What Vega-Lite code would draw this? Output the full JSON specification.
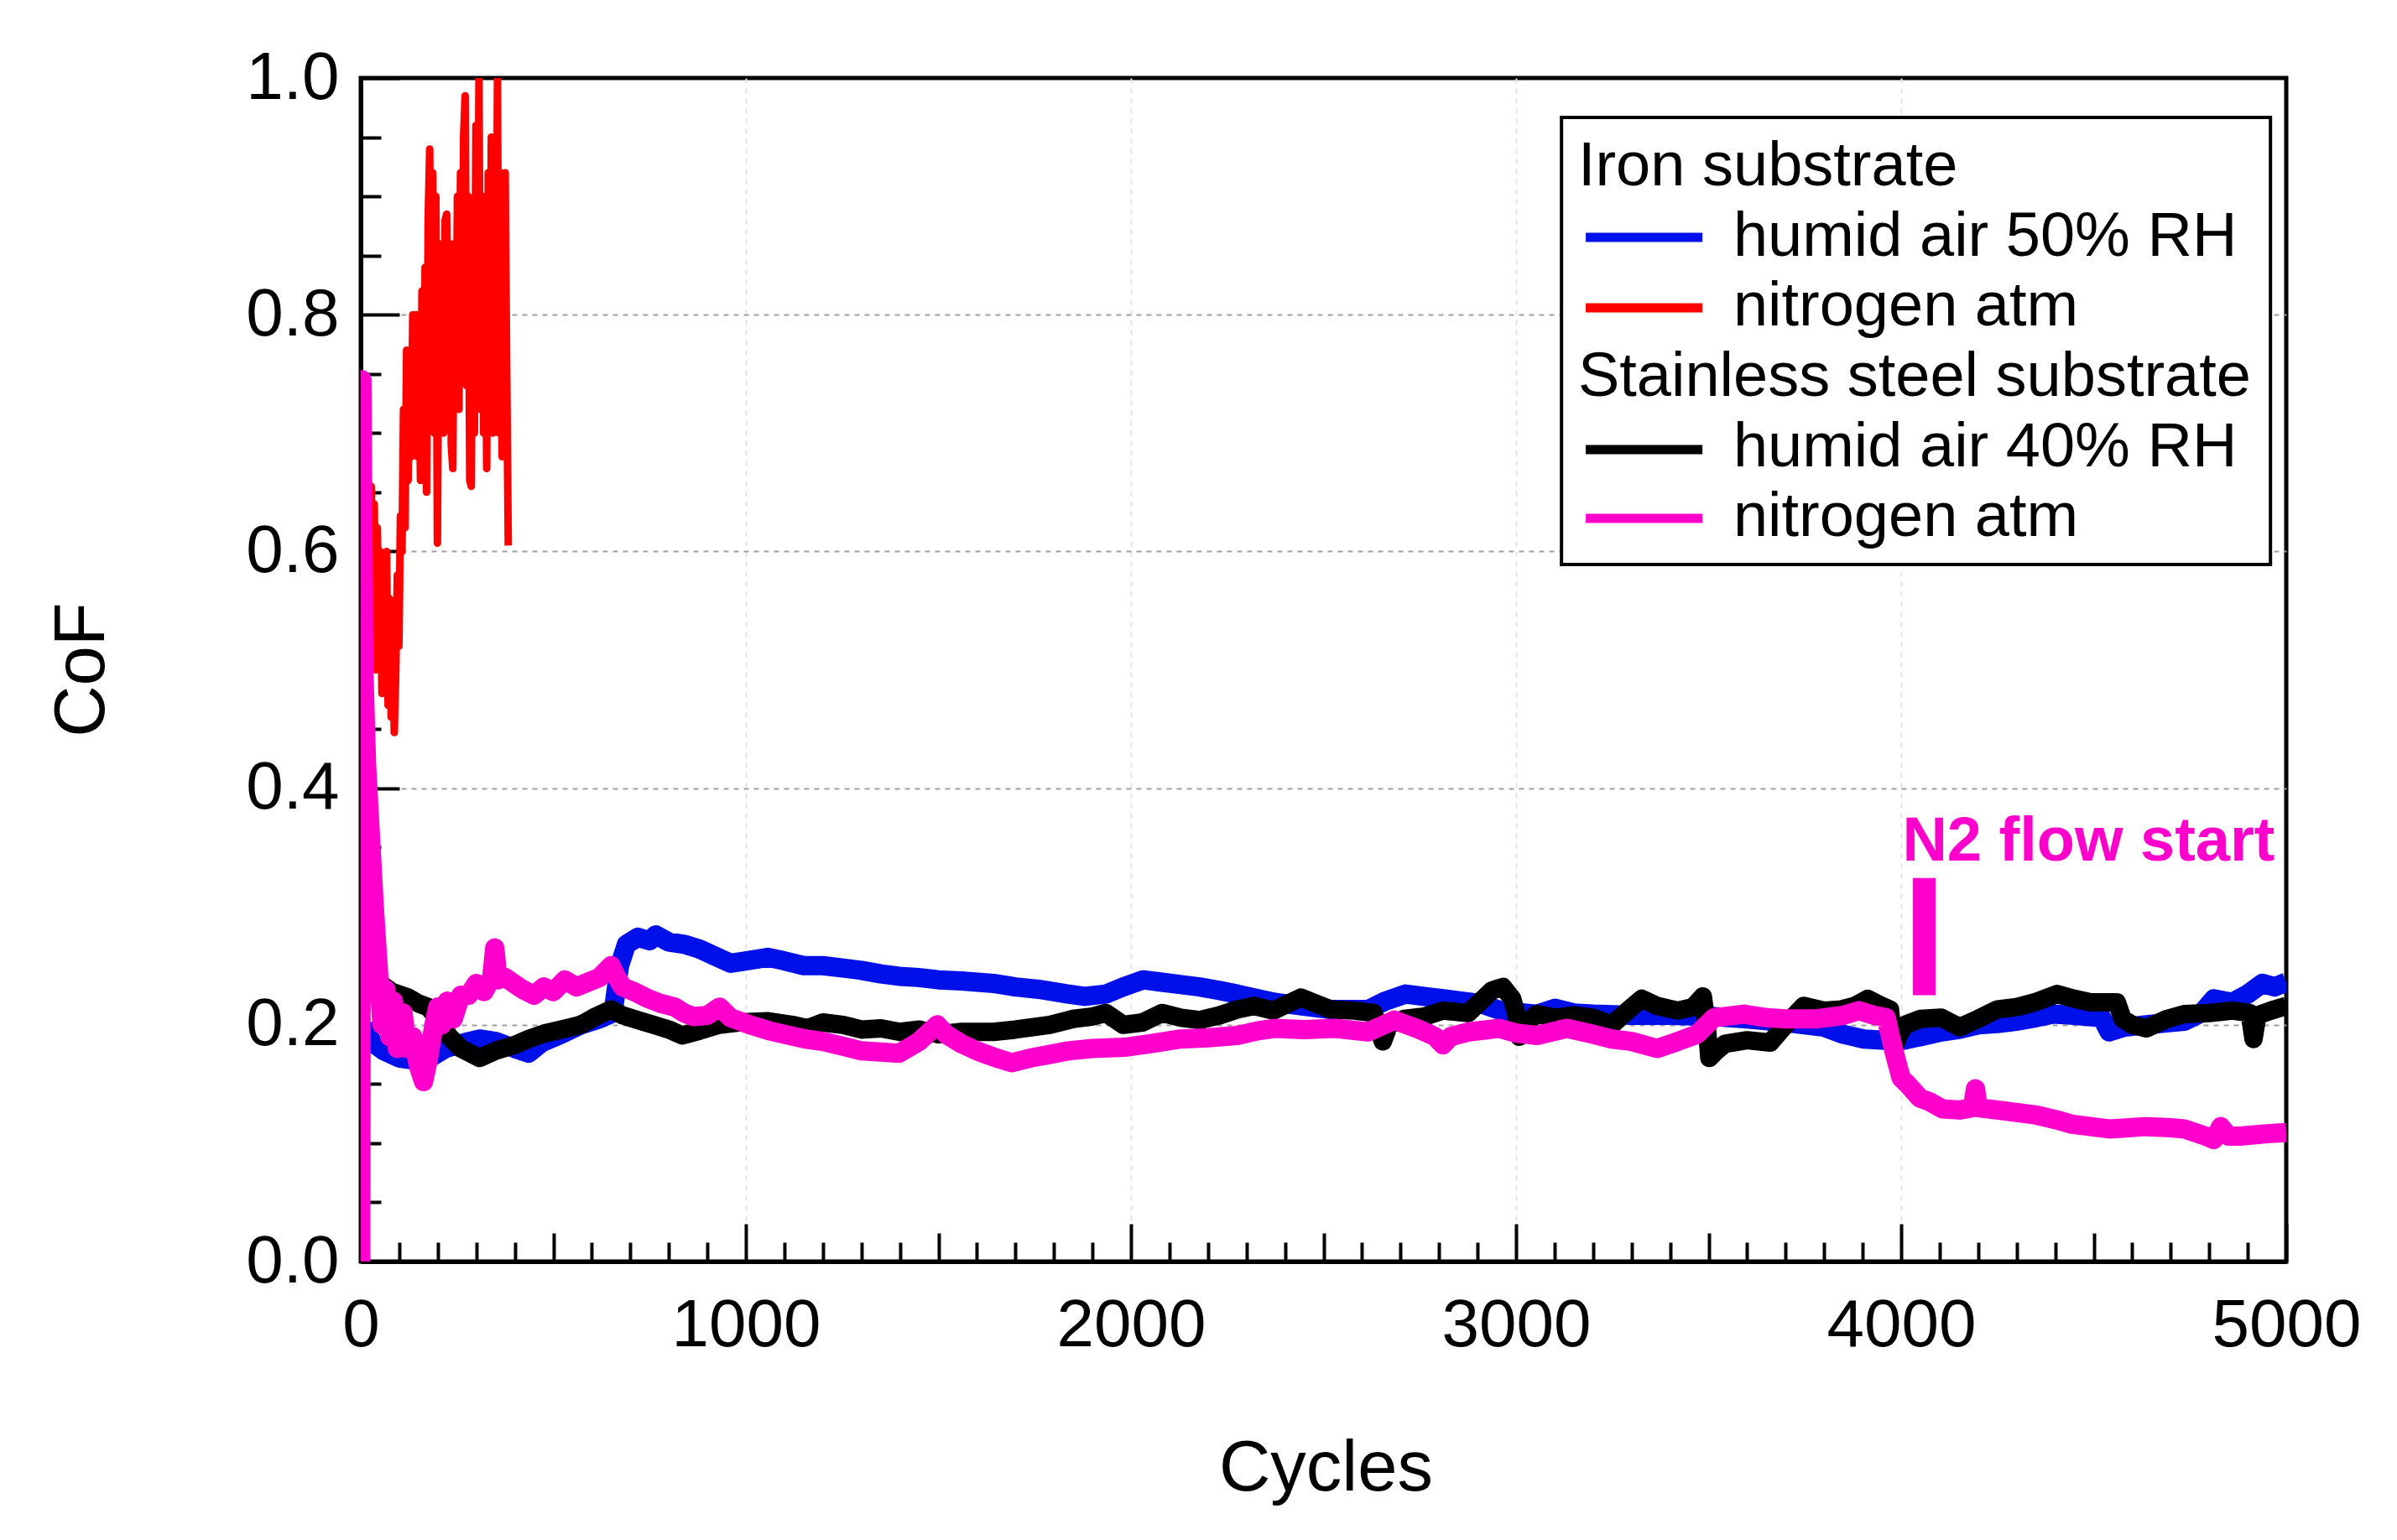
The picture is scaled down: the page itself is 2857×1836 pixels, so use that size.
{
  "$schema": "https://vega.github.io/schema/vega-lite/v6.json",
  "background": "white",
  "autosize": {"type": "none"},
  "padding": {"left": 430, "top": 93, "right": 132, "bottom": 332},
  "width": 2295,
  "height": 1411,
  "config": {
    "font": "Liberation Sans",
    "view": {"stroke": "black", "strokeWidth": 5}
  },
  "datasets": {
    "ironAir": [
      {"cycles": 10, "cof": 0.2}, {"cycles": 30, "cof": 0.185}, {"cycles": 60, "cof": 0.178}, {"cycles": 100, "cof": 0.172},
      {"cycles": 140, "cof": 0.17}, {"cycles": 180, "cof": 0.172}, {"cycles": 220, "cof": 0.18}, {"cycles": 270, "cof": 0.185},
      {"cycles": 309, "cof": 0.188}, {"cycles": 350, "cof": 0.186}, {"cycles": 400, "cof": 0.18}, {"cycles": 436, "cof": 0.176},
      {"cycles": 470, "cof": 0.185}, {"cycles": 520, "cof": 0.192}, {"cycles": 572, "cof": 0.2}, {"cycles": 620, "cof": 0.205},
      {"cycles": 655, "cof": 0.21}, {"cycles": 672, "cof": 0.25}, {"cycles": 690, "cof": 0.268}, {"cycles": 720, "cof": 0.274},
      {"cycles": 750, "cof": 0.271}, {"cycles": 766, "cof": 0.276}, {"cycles": 800, "cof": 0.27}, {"cycles": 840, "cof": 0.268},
      {"cycles": 880, "cof": 0.264}, {"cycles": 920, "cof": 0.258}, {"cycles": 961, "cof": 0.252}, {"cycles": 1000, "cof": 0.254},
      {"cycles": 1058, "cof": 0.257}, {"cycles": 1100, "cof": 0.254}, {"cycles": 1150, "cof": 0.25}, {"cycles": 1200, "cof": 0.25},
      {"cycles": 1252, "cof": 0.248}, {"cycles": 1300, "cof": 0.246}, {"cycles": 1351, "cof": 0.243}, {"cycles": 1398, "cof": 0.241},
      {"cycles": 1448, "cof": 0.24}, {"cycles": 1500, "cof": 0.238}, {"cycles": 1560, "cof": 0.237}, {"cycles": 1643, "cof": 0.235},
      {"cycles": 1700, "cof": 0.232}, {"cycles": 1760, "cof": 0.23}, {"cycles": 1837, "cof": 0.226}, {"cycles": 1880, "cof": 0.224},
      {"cycles": 1935, "cof": 0.226}, {"cycles": 1980, "cof": 0.232}, {"cycles": 2032, "cof": 0.238}, {"cycles": 2080, "cof": 0.236},
      {"cycles": 2130, "cof": 0.234}, {"cycles": 2178, "cof": 0.232}, {"cycles": 2230, "cof": 0.229}, {"cycles": 2276, "cof": 0.226},
      {"cycles": 2330, "cof": 0.222}, {"cycles": 2373, "cof": 0.219}, {"cycles": 2440, "cof": 0.216}, {"cycles": 2519, "cof": 0.213},
      {"cycles": 2616, "cof": 0.213}, {"cycles": 2660, "cof": 0.22}, {"cycles": 2713, "cof": 0.226}, {"cycles": 2760, "cof": 0.224},
      {"cycles": 2810, "cof": 0.222}, {"cycles": 2907, "cof": 0.218}, {"cycles": 2960, "cof": 0.212}, {"cycles": 3054, "cof": 0.209},
      {"cycles": 3102, "cof": 0.214}, {"cycles": 3150, "cof": 0.21}, {"cycles": 3200, "cof": 0.209}, {"cycles": 3300, "cof": 0.208},
      {"cycles": 3400, "cof": 0.208}, {"cycles": 3514, "cof": 0.207}, {"cycles": 3600, "cof": 0.205}, {"cycles": 3700, "cof": 0.202},
      {"cycles": 3800, "cof": 0.198}, {"cycles": 3850, "cof": 0.192}, {"cycles": 3903, "cof": 0.188}, {"cycles": 3958, "cof": 0.187},
      {"cycles": 4006, "cof": 0.187}, {"cycles": 4050, "cof": 0.19}, {"cycles": 4104, "cof": 0.194}, {"cycles": 4150, "cof": 0.196},
      {"cycles": 4201, "cof": 0.2}, {"cycles": 4250, "cof": 0.201}, {"cycles": 4298, "cof": 0.203}, {"cycles": 4350, "cof": 0.206},
      {"cycles": 4395, "cof": 0.209}, {"cycles": 4450, "cof": 0.208}, {"cycles": 4521, "cof": 0.206}, {"cycles": 4540, "cof": 0.194},
      {"cycles": 4580, "cof": 0.198}, {"cycles": 4637, "cof": 0.2}, {"cycles": 4700, "cof": 0.202}, {"cycles": 4735, "cof": 0.203},
      {"cycles": 4780, "cof": 0.21}, {"cycles": 4812, "cof": 0.222}, {"cycles": 4860, "cof": 0.219}, {"cycles": 4900, "cof": 0.226},
      {"cycles": 4938, "cof": 0.235}, {"cycles": 4970, "cof": 0.232}, {"cycles": 5000, "cof": 0.236}
    ],
    "ironN2": [
      {"cycles": 15, "cof": 0.48}, {"cycles": 19, "cof": 0.62}, {"cycles": 23, "cof": 0.52}, {"cycles": 27, "cof": 0.655},
      {"cycles": 31, "cof": 0.56}, {"cycles": 35, "cof": 0.64}, {"cycles": 39, "cof": 0.5}, {"cycles": 43, "cof": 0.62},
      {"cycles": 47, "cof": 0.53}, {"cycles": 51, "cof": 0.6}, {"cycles": 55, "cof": 0.48}, {"cycles": 59, "cof": 0.58},
      {"cycles": 63, "cof": 0.5}, {"cycles": 67, "cof": 0.6}, {"cycles": 71, "cof": 0.47}, {"cycles": 75, "cof": 0.56},
      {"cycles": 79, "cof": 0.46}, {"cycles": 83, "cof": 0.52}, {"cycles": 87, "cof": 0.447}, {"cycles": 91, "cof": 0.5},
      {"cycles": 95, "cof": 0.58}, {"cycles": 99, "cof": 0.52}, {"cycles": 103, "cof": 0.63}, {"cycles": 107, "cof": 0.6},
      {"cycles": 111, "cof": 0.72}, {"cycles": 115, "cof": 0.62}, {"cycles": 119, "cof": 0.77}, {"cycles": 123, "cof": 0.66},
      {"cycles": 127, "cof": 0.76}, {"cycles": 131, "cof": 0.68}, {"cycles": 135, "cof": 0.8}, {"cycles": 139, "cof": 0.7},
      {"cycles": 143, "cof": 0.8}, {"cycles": 147, "cof": 0.68}, {"cycles": 151, "cof": 0.78}, {"cycles": 155, "cof": 0.66},
      {"cycles": 159, "cof": 0.82}, {"cycles": 163, "cof": 0.7}, {"cycles": 167, "cof": 0.84}, {"cycles": 171, "cof": 0.65},
      {"cycles": 175, "cof": 0.88}, {"cycles": 179, "cof": 0.94}, {"cycles": 183, "cof": 0.78}, {"cycles": 187, "cof": 0.92},
      {"cycles": 191, "cof": 0.7}, {"cycles": 195, "cof": 0.9}, {"cycles": 199, "cof": 0.607}, {"cycles": 203, "cof": 0.84},
      {"cycles": 207, "cof": 0.72}, {"cycles": 211, "cof": 0.86}, {"cycles": 215, "cof": 0.7}, {"cycles": 219, "cof": 0.88},
      {"cycles": 223, "cof": 0.885}, {"cycles": 227, "cof": 0.74}, {"cycles": 231, "cof": 0.86}, {"cycles": 235, "cof": 0.69},
      {"cycles": 239, "cof": 0.67}, {"cycles": 243, "cof": 0.86}, {"cycles": 247, "cof": 0.74}, {"cycles": 251, "cof": 0.9},
      {"cycles": 255, "cof": 0.72}, {"cycles": 259, "cof": 0.92}, {"cycles": 263, "cof": 0.75}, {"cycles": 267, "cof": 0.95},
      {"cycles": 271, "cof": 0.985}, {"cycles": 275, "cof": 0.74}, {"cycles": 279, "cof": 0.9}, {"cycles": 283, "cof": 0.66},
      {"cycles": 287, "cof": 0.655}, {"cycles": 291, "cof": 0.88}, {"cycles": 295, "cof": 0.7}, {"cycles": 299, "cof": 0.96},
      {"cycles": 303, "cof": 0.8}, {"cycles": 307, "cof": 1.0}, {"cycles": 311, "cof": 0.72}, {"cycles": 315, "cof": 0.9},
      {"cycles": 319, "cof": 0.7}, {"cycles": 323, "cof": 0.88}, {"cycles": 327, "cof": 0.67}, {"cycles": 331, "cof": 0.92},
      {"cycles": 335, "cof": 0.72}, {"cycles": 339, "cof": 0.95}, {"cycles": 343, "cof": 0.7}, {"cycles": 347, "cof": 0.9},
      {"cycles": 351, "cof": 0.75}, {"cycles": 355, "cof": 1.0}, {"cycles": 359, "cof": 0.7}, {"cycles": 363, "cof": 0.92},
      {"cycles": 367, "cof": 0.68}, {"cycles": 371, "cof": 0.88}, {"cycles": 375, "cof": 0.92}, {"cycles": 379, "cof": 0.75},
      {"cycles": 383, "cof": 0.605}
    ],
    "ssAir": [
      {"cycles": 5, "cof": 0.27}, {"cycles": 15, "cof": 0.26}, {"cycles": 30, "cof": 0.245}, {"cycles": 50, "cof": 0.235},
      {"cycles": 80, "cof": 0.228}, {"cycles": 124, "cof": 0.223}, {"cycles": 150, "cof": 0.218}, {"cycles": 175, "cof": 0.215},
      {"cycles": 200, "cof": 0.205}, {"cycles": 230, "cof": 0.19}, {"cycles": 260, "cof": 0.18}, {"cycles": 309, "cof": 0.172},
      {"cycles": 350, "cof": 0.178}, {"cycles": 400, "cof": 0.183}, {"cycles": 436, "cof": 0.188}, {"cycles": 480, "cof": 0.193},
      {"cycles": 520, "cof": 0.196}, {"cycles": 572, "cof": 0.2}, {"cycles": 610, "cof": 0.207}, {"cycles": 650, "cof": 0.213},
      {"cycles": 680, "cof": 0.208}, {"cycles": 720, "cof": 0.204}, {"cycles": 760, "cof": 0.2}, {"cycles": 800, "cof": 0.196},
      {"cycles": 835, "cof": 0.191}, {"cycles": 880, "cof": 0.195}, {"cycles": 930, "cof": 0.2}, {"cycles": 980, "cof": 0.202},
      {"cycles": 1058, "cof": 0.203}, {"cycles": 1120, "cof": 0.2}, {"cycles": 1160, "cof": 0.197}, {"cycles": 1200, "cof": 0.202},
      {"cycles": 1252, "cof": 0.2}, {"cycles": 1300, "cof": 0.196}, {"cycles": 1351, "cof": 0.197}, {"cycles": 1400, "cof": 0.194},
      {"cycles": 1450, "cof": 0.196}, {"cycles": 1500, "cof": 0.192}, {"cycles": 1560, "cof": 0.194}, {"cycles": 1643, "cof": 0.194},
      {"cycles": 1700, "cof": 0.196}, {"cycles": 1789, "cof": 0.2}, {"cycles": 1850, "cof": 0.205}, {"cycles": 1900, "cof": 0.207},
      {"cycles": 1935, "cof": 0.21}, {"cycles": 1980, "cof": 0.2}, {"cycles": 2030, "cof": 0.202}, {"cycles": 2081, "cof": 0.21},
      {"cycles": 2130, "cof": 0.206}, {"cycles": 2178, "cof": 0.204}, {"cycles": 2230, "cof": 0.208}, {"cycles": 2276, "cof": 0.213},
      {"cycles": 2320, "cof": 0.216}, {"cycles": 2370, "cof": 0.212}, {"cycles": 2441, "cof": 0.223}, {"cycles": 2480, "cof": 0.218},
      {"cycles": 2519, "cof": 0.213}, {"cycles": 2580, "cof": 0.212}, {"cycles": 2630, "cof": 0.21}, {"cycles": 2654, "cof": 0.186},
      {"cycles": 2670, "cof": 0.2}, {"cycles": 2710, "cof": 0.205}, {"cycles": 2762, "cof": 0.207}, {"cycles": 2810, "cof": 0.212},
      {"cycles": 2876, "cof": 0.21}, {"cycles": 2937, "cof": 0.229}, {"cycles": 2966, "cof": 0.232}, {"cycles": 2990, "cof": 0.222},
      {"cycles": 3000, "cof": 0.21}, {"cycles": 3008, "cof": 0.19}, {"cycles": 3020, "cof": 0.2}, {"cycles": 3054, "cof": 0.209},
      {"cycles": 3102, "cof": 0.206}, {"cycles": 3150, "cof": 0.208}, {"cycles": 3200, "cof": 0.206}, {"cycles": 3249, "cof": 0.2},
      {"cycles": 3290, "cof": 0.212}, {"cycles": 3326, "cof": 0.222}, {"cycles": 3366, "cof": 0.216}, {"cycles": 3420, "cof": 0.212},
      {"cycles": 3460, "cof": 0.215}, {"cycles": 3485, "cof": 0.224}, {"cycles": 3495, "cof": 0.2}, {"cycles": 3502, "cof": 0.172},
      {"cycles": 3520, "cof": 0.178}, {"cycles": 3543, "cof": 0.184}, {"cycles": 3600, "cof": 0.187}, {"cycles": 3660, "cof": 0.185},
      {"cycles": 3700, "cof": 0.2}, {"cycles": 3747, "cof": 0.216}, {"cycles": 3800, "cof": 0.212}, {"cycles": 3845, "cof": 0.213},
      {"cycles": 3880, "cof": 0.216}, {"cycles": 3913, "cof": 0.222}, {"cycles": 3950, "cof": 0.216}, {"cycles": 3971, "cof": 0.213},
      {"cycles": 3981, "cof": 0.18}, {"cycles": 3995, "cof": 0.192}, {"cycles": 4010, "cof": 0.2}, {"cycles": 4050, "cof": 0.205},
      {"cycles": 4104, "cof": 0.206}, {"cycles": 4152, "cof": 0.198}, {"cycles": 4200, "cof": 0.205}, {"cycles": 4250, "cof": 0.213},
      {"cycles": 4300, "cof": 0.215}, {"cycles": 4347, "cof": 0.219}, {"cycles": 4405, "cof": 0.226}, {"cycles": 4450, "cof": 0.222},
      {"cycles": 4492, "cof": 0.219}, {"cycles": 4560, "cof": 0.219}, {"cycles": 4575, "cof": 0.205}, {"cycles": 4600, "cof": 0.2},
      {"cycles": 4637, "cof": 0.197}, {"cycles": 4690, "cof": 0.205}, {"cycles": 4735, "cof": 0.209}, {"cycles": 4800, "cof": 0.21},
      {"cycles": 4860, "cof": 0.212}, {"cycles": 4905, "cof": 0.21}, {"cycles": 4915, "cof": 0.188}, {"cycles": 4925, "cof": 0.208},
      {"cycles": 4960, "cof": 0.212}, {"cycles": 5000, "cof": 0.216}
    ],
    "ssN2": [
      {"cycles": 0, "cof": 0.0}, {"cycles": 3, "cof": 0.745}, {"cycles": 8, "cof": 0.5}, {"cycles": 15, "cof": 0.42},
      {"cycles": 25, "cof": 0.36}, {"cycles": 35, "cof": 0.3}, {"cycles": 45, "cof": 0.25}, {"cycles": 55, "cof": 0.2},
      {"cycles": 65, "cof": 0.23}, {"cycles": 75, "cof": 0.19}, {"cycles": 85, "cof": 0.22}, {"cycles": 95, "cof": 0.18},
      {"cycles": 110, "cof": 0.21}, {"cycles": 120, "cof": 0.18}, {"cycles": 135, "cof": 0.19}, {"cycles": 150, "cof": 0.165},
      {"cycles": 163, "cof": 0.152}, {"cycles": 175, "cof": 0.17}, {"cycles": 190, "cof": 0.2}, {"cycles": 200, "cof": 0.215},
      {"cycles": 210, "cof": 0.2}, {"cycles": 225, "cof": 0.22}, {"cycles": 240, "cof": 0.205}, {"cycles": 260, "cof": 0.225},
      {"cycles": 280, "cof": 0.225}, {"cycles": 300, "cof": 0.235}, {"cycles": 320, "cof": 0.228}, {"cycles": 340, "cof": 0.24},
      {"cycles": 348, "cof": 0.265}, {"cycles": 356, "cof": 0.238}, {"cycles": 375, "cof": 0.24}, {"cycles": 397, "cof": 0.235},
      {"cycles": 420, "cof": 0.23}, {"cycles": 450, "cof": 0.225}, {"cycles": 475, "cof": 0.232}, {"cycles": 500, "cof": 0.228},
      {"cycles": 530, "cof": 0.238}, {"cycles": 560, "cof": 0.232}, {"cycles": 590, "cof": 0.236}, {"cycles": 620, "cof": 0.24},
      {"cycles": 650, "cof": 0.25}, {"cycles": 665, "cof": 0.24}, {"cycles": 680, "cof": 0.232}, {"cycles": 710, "cof": 0.228},
      {"cycles": 747, "cof": 0.222}, {"cycles": 780, "cof": 0.218}, {"cycles": 815, "cof": 0.215}, {"cycles": 840, "cof": 0.21},
      {"cycles": 864, "cof": 0.207}, {"cycles": 900, "cof": 0.208}, {"cycles": 932, "cof": 0.215}, {"cycles": 960, "cof": 0.206},
      {"cycles": 1010, "cof": 0.2}, {"cycles": 1060, "cof": 0.195}, {"cycles": 1100, "cof": 0.192}, {"cycles": 1155, "cof": 0.188},
      {"cycles": 1200, "cof": 0.186}, {"cycles": 1250, "cof": 0.182}, {"cycles": 1300, "cof": 0.178}, {"cycles": 1350, "cof": 0.177},
      {"cycles": 1398, "cof": 0.176}, {"cycles": 1450, "cof": 0.186}, {"cycles": 1497, "cof": 0.2}, {"cycles": 1520, "cof": 0.192},
      {"cycles": 1560, "cof": 0.184}, {"cycles": 1600, "cof": 0.178}, {"cycles": 1650, "cof": 0.172}, {"cycles": 1691, "cof": 0.168},
      {"cycles": 1740, "cof": 0.172}, {"cycles": 1789, "cof": 0.175}, {"cycles": 1837, "cof": 0.178}, {"cycles": 1900, "cof": 0.18},
      {"cycles": 1983, "cof": 0.181}, {"cycles": 2050, "cof": 0.184}, {"cycles": 2129, "cof": 0.188}, {"cycles": 2200, "cof": 0.189},
      {"cycles": 2276, "cof": 0.191}, {"cycles": 2330, "cof": 0.195}, {"cycles": 2373, "cof": 0.197}, {"cycles": 2450, "cof": 0.196},
      {"cycles": 2530, "cof": 0.197}, {"cycles": 2616, "cof": 0.194}, {"cycles": 2684, "cof": 0.204}, {"cycles": 2750, "cof": 0.196},
      {"cycles": 2790, "cof": 0.19}, {"cycles": 2810, "cof": 0.183}, {"cycles": 2830, "cof": 0.19}, {"cycles": 2876, "cof": 0.194},
      {"cycles": 2956, "cof": 0.197}, {"cycles": 3000, "cof": 0.193}, {"cycles": 3054, "cof": 0.191}, {"cycles": 3132, "cof": 0.197},
      {"cycles": 3200, "cof": 0.192}, {"cycles": 3249, "cof": 0.188}, {"cycles": 3300, "cof": 0.186}, {"cycles": 3366, "cof": 0.18},
      {"cycles": 3420, "cof": 0.186}, {"cycles": 3470, "cof": 0.192}, {"cycles": 3514, "cof": 0.206}, {"cycles": 3592, "cof": 0.209},
      {"cycles": 3650, "cof": 0.206}, {"cycles": 3700, "cof": 0.205}, {"cycles": 3780, "cof": 0.205}, {"cycles": 3850, "cof": 0.208},
      {"cycles": 3890, "cof": 0.212}, {"cycles": 3930, "cof": 0.208}, {"cycles": 3961, "cof": 0.206}, {"cycles": 3981, "cof": 0.178},
      {"cycles": 4000, "cof": 0.155}, {"cycles": 4016, "cof": 0.15}, {"cycles": 4049, "cof": 0.138}, {"cycles": 4074, "cof": 0.135},
      {"cycles": 4107, "cof": 0.129}, {"cycles": 4152, "cof": 0.128}, {"cycles": 4185, "cof": 0.13}, {"cycles": 4193, "cof": 0.146},
      {"cycles": 4200, "cof": 0.13}, {"cycles": 4250, "cof": 0.128}, {"cycles": 4347, "cof": 0.124}, {"cycles": 4400, "cof": 0.12},
      {"cycles": 4444, "cof": 0.116}, {"cycles": 4540, "cof": 0.112}, {"cycles": 4637, "cof": 0.114}, {"cycles": 4700, "cof": 0.113},
      {"cycles": 4735, "cof": 0.112}, {"cycles": 4790, "cof": 0.106}, {"cycles": 4812, "cof": 0.103}, {"cycles": 4830, "cof": 0.114},
      {"cycles": 4850, "cof": 0.106}, {"cycles": 4880, "cof": 0.106}, {"cycles": 4950, "cof": 0.108}, {"cycles": 5000, "cof": 0.109}
    ],
    "legendBox": [
      {"cycles": 3118, "cycles2": 4959, "cof": 0.589, "cof2": 0.9667}
    ],
    "legendSymbols": [
      {"series": "Iron, humid air 50% RH", "cycles": 3181, "cycles2": 3484, "cof": 0.8653},
      {"series": "Iron, nitrogen atm", "cycles": 3181, "cycles2": 3484, "cof": 0.8058},
      {"series": "Stainless steel, humid air 40% RH", "cycles": 3181, "cycles2": 3484, "cof": 0.686},
      {"series": "Stainless steel, nitrogen atm", "cycles": 3181, "cycles2": 3484, "cof": 0.6279}
    ],
    "legendText": [
      {"label": "Iron substrate", "cycles": 3161, "cof": 0.9093},
      {"label": "humid air 50% RH", "cycles": 3564, "cof": 0.8497},
      {"label": "nitrogen atm", "cycles": 3564, "cof": 0.7909},
      {"label": "Stainless steel substrate", "cycles": 3161, "cof": 0.7314},
      {"label": "humid air 40% RH", "cycles": 3564, "cof": 0.6719},
      {"label": "nitrogen atm", "cycles": 3564, "cof": 0.613}
    ],
    "marker": [
      {"label": "N2 flow start", "cycles": 4060, "cof": 0.225, "cof2": 0.324, "textCycles": 4003, "textCof": 0.339}
    ]
  },
  "encoding": {
    "x": {
      "field": "cycles",
      "type": "quantitative",
      "scale": {"domain": [0, 5000], "nice": false},
      "axis": {
        "title": "Cycles",
        "titleFontSize": 85,
        "titleFontWeight": "normal",
        "titleColor": "black",
        "titleX": 1150,
        "titleY": 272,
        "titleAlign": "center",
        "titleBaseline": "alphabetic",
        "values": [0, 100, 200, 300, 400, 500, 600, 700, 800, 900, 1000, 1100, 1200, 1300, 1400, 1500, 1600, 1700, 1800, 1900, 2000, 2100, 2200, 2300, 2400, 2500, 2600, 2700, 2800, 2900, 3000, 3100, 3200, 3300, 3400, 3500, 3600, 3700, 3800, 3900, 4000, 4100, 4200, 4300, 4400, 4500, 4600, 4700, 4800, 4900, 5000],
        "format": "d",
        "labelExpr": "datum.value % 1000 === 0 ? datum.label : ''",
        "labelFontSize": 80,
        "labelColor": "black",
        "labelPadding": 82,
        "labelFlush": false,
        "labelOverlap": false,
        "domainColor": "black",
        "domainWidth": 5,
        "tickColor": "black",
        "tickWidth": 4,
        "tickSize": {"condition": [{"test": "datum.value % 1000 === 0", "value": -45}, {"test": "datum.value % 500 === 0", "value": -34}], "value": -23},
        "grid": true,
        "gridColor": "#e4e4e4",
        "gridDash": [6, 6],
        "gridWidth": 2,
        "gridOpacity": {"condition": {"test": "datum.value % 1000 === 0 && datum.value > 0 && datum.value < 5000", "value": 1}, "value": 0}
      }
    },
    "y": {
      "field": "cof",
      "type": "quantitative",
      "scale": {"domain": [0, 1], "nice": false},
      "axis": {
        "title": "CoF",
        "titleFontSize": 85,
        "titleFontWeight": "normal",
        "titleColor": "black",
        "titleAngle": -90,
        "titleX": -307,
        "titleY": 705,
        "titleAlign": "center",
        "titleBaseline": "alphabetic",
        "values": [0, 0.05, 0.1, 0.15, 0.2, 0.25, 0.3, 0.35, 0.4, 0.45, 0.5, 0.55, 0.6, 0.65, 0.7, 0.75, 0.8, 0.85, 0.9, 0.95, 1.0],
        "labelExpr": "round(datum.value * 100) % 20 === 0 ? format(datum.value, '.1f') : ''",
        "labelFontSize": 80,
        "labelColor": "black",
        "labelPadding": 72,
        "labelFlush": false,
        "labelOverlap": false,
        "domainColor": "black",
        "domainWidth": 5,
        "tickColor": "black",
        "tickWidth": 4,
        "tickSize": {"condition": {"test": "round(datum.value * 100) % 20 === 0", "value": -46}, "value": -24},
        "grid": true,
        "gridColor": "#a0a0a0",
        "gridDash": [6, 6],
        "gridWidth": 2,
        "gridOpacity": {"condition": {"test": "round(datum.value * 100) % 20 === 0 && datum.value > 0 && datum.value < 1", "value": 1}, "value": 0}
      }
    }
  },
  "layer": [
    {
      "data": {"name": "ironAir"},
      "mark": {"type": "line", "color": "#0010e8", "strokeWidth": 23, "strokeJoin": "round", "clip": true}
    },
    {
      "data": {"name": "ironN2"},
      "mark": {"type": "line", "color": "#ff0000", "strokeWidth": 9, "strokeJoin": "round", "clip": true}
    },
    {
      "data": {"name": "ssAir"},
      "mark": {"type": "line", "color": "#000000", "strokeWidth": 22, "strokeJoin": "round", "clip": true}
    },
    {
      "data": {"name": "ssN2"},
      "mark": {"type": "line", "color": "#ff00cc", "strokeWidth": 23, "strokeJoin": "round", "clip": true}
    },
    {
      "data": {"name": "legendBox"},
      "mark": {"type": "rect", "fill": "white", "stroke": "black", "strokeWidth": 4},
      "encoding": {
        "x2": {"field": "cycles2"},
        "y2": {"field": "cof2"}
      }
    },
    {
      "data": {"name": "legendSymbols"},
      "mark": {"type": "rule", "strokeWidth": 11},
      "encoding": {
        "x2": {"field": "cycles2"},
        "color": {
          "field": "series",
          "type": "nominal",
          "scale": {
            "domain": ["Iron, humid air 50% RH", "Iron, nitrogen atm", "Stainless steel, humid air 40% RH", "Stainless steel, nitrogen atm"],
            "range": ["#0010e8", "#ff0000", "#000000", "#ff00cc"]
          },
          "legend": null
        }
      }
    },
    {
      "data": {"name": "legendText"},
      "mark": {"type": "text", "align": "left", "baseline": "alphabetic", "fontSize": 74, "color": "black"},
      "encoding": {"text": {"field": "label"}}
    },
    {
      "data": {"name": "marker"},
      "mark": {"type": "rule", "color": "#ff00cc", "strokeWidth": 27},
      "encoding": {"y2": {"field": "cof2"}}
    },
    {
      "data": {"name": "marker"},
      "mark": {"type": "text", "align": "left", "baseline": "alphabetic", "fontSize": 74, "fontWeight": "bold", "color": "#ff00cc"},
      "encoding": {
        "x": {"field": "textCycles", "type": "quantitative"},
        "y": {"field": "textCof", "type": "quantitative"},
        "text": {"field": "label"}
      }
    }
  ]
}
